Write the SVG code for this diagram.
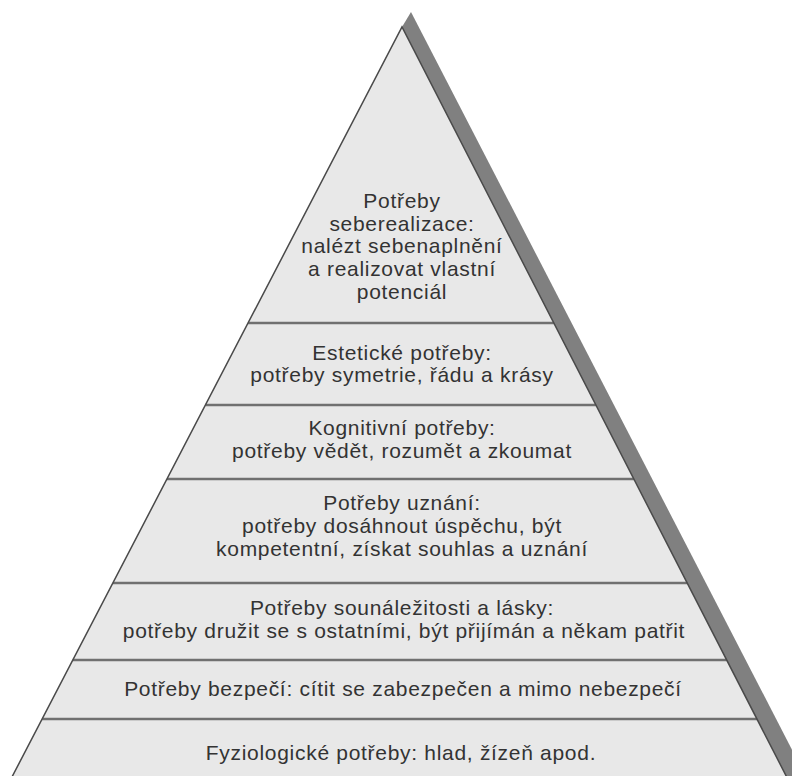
<svg xmlns="http://www.w3.org/2000/svg" width="792" height="776" viewBox="0 0 792 776">
  <style>
    .band { fill: #e8e8e8; stroke: none; }
    .sep { stroke: #707070; stroke-width: 2.5; fill: none; }
    .lbl { font-family: "Liberation Sans", Arial, sans-serif; font-size: 21px; fill: #333333; text-anchor: middle; letter-spacing: 0.7px; }
  </style>
  <rect x="0" y="0" width="792" height="776" fill="#ffffff"/>
  <polygon id="shadow" points="411,12 818,800 790,800 402,27" fill="#808080"/>

  <g id="level-selfactualization">
    <polygon class="band" points="402,27 553.8,323 248.1,323"/>
    <text class="lbl" x="402" y="208">Potřeby</text>
    <text class="lbl" x="402" y="231">seberealizace:</text>
    <text class="lbl" x="402" y="253">nalézt sebenaplnění</text>
    <text class="lbl" x="402" y="276">a realizovat vlastní</text>
    <text class="lbl" x="402" y="299">potenciál</text>
  </g>
  <g id="level-aesthetic">
    <polygon class="band" points="248.1,323 553.8,323 595.9,405 205.4,405"/>
    <text class="lbl" x="402" y="360">Estetické potřeby:</text>
    <text class="lbl" x="402" y="382">potřeby symetrie, řádu a krásy</text>
  </g>
  <g id="level-cognitive">
    <polygon class="band" points="205.4,405 595.9,405 633.9,479 167,479"/>
    <text class="lbl" x="402" y="435">Kognitivní potřeby:</text>
    <text class="lbl" x="402" y="458">potřeby vědět, rozumět a zkoumat</text>
  </g>
  <g id="level-esteem">
    <polygon class="band" points="167,479 633.9,479 687.2,583 112.9,583"/>
    <text class="lbl" x="402" y="510">Potřeby uznání:</text>
    <text class="lbl" x="402" y="533">potřeby dosáhnout úspěchu, být</text>
    <text class="lbl" x="402" y="556">kompetentní, získat souhlas a uznání</text>
  </g>
  <g id="level-belonging">
    <polygon class="band" points="112.9,583 687.2,583 726.7,660 72.8,660"/>
    <text class="lbl" x="402" y="615">Potřeby sounáležitosti a lásky:</text>
    <text class="lbl" x="404" y="638">potřeby družit se s ostatními, být přijímán a někam patřit</text>
  </g>
  <g id="level-safety">
    <polygon class="band" points="72.8,660 726.7,660 757,719 42.2,719"/>
    <text class="lbl" x="403" y="696">Potřeby bezpečí: cítit se zabezpečen a mimo nebezpečí</text>
  </g>
  <g id="level-physiological">
    <polygon class="band" points="42.2,719 757,719 798.5,800 0,800"/>
    <text class="lbl" x="401" y="760">Fyziologické potřeby: hlad, žízeň apod.</text>
  </g>

  <g id="connectors">
    <line class="sep" x1="248.1" y1="323" x2="553.8" y2="323"/>
    <line class="sep" x1="205.4" y1="405" x2="595.9" y2="405"/>
    <line class="sep" x1="167" y1="479" x2="633.9" y2="479"/>
    <line class="sep" x1="112.9" y1="583" x2="687.2" y2="583"/>
    <line class="sep" x1="72.8" y1="660" x2="726.7" y2="660"/>
    <line class="sep" x1="42.2" y1="719" x2="757" y2="719"/>
    <polyline points="0,800 402,27 798.5,800" fill="none" stroke="#4a4a4a" stroke-width="1.5" stroke-linejoin="miter"/>
  </g>
</svg>
